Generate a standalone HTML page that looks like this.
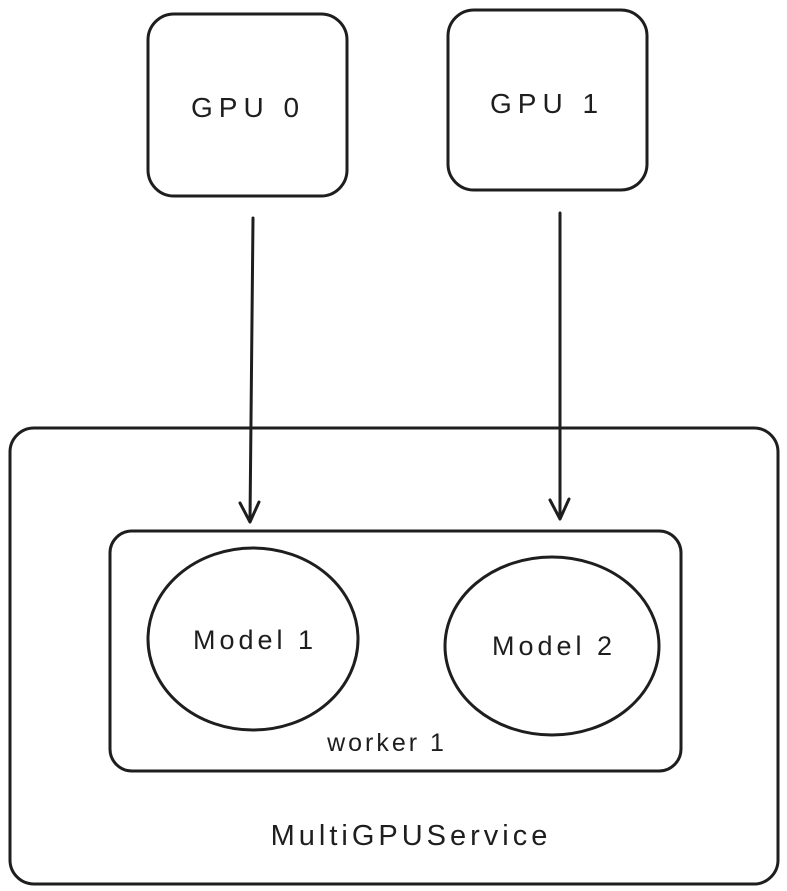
<!DOCTYPE html>
<html><head><meta charset="utf-8"><style>
html,body{margin:0;padding:0;background:#fff;}
svg{display:block;}
text{font-family:"Liberation Sans",sans-serif;fill:#1e1e1e;}
</style></head><body>
<svg width="787" height="891" viewBox="0 0 787 891" xmlns="http://www.w3.org/2000/svg">
<g fill="none" stroke="#1e1e1e" stroke-width="3" stroke-linecap="round" stroke-linejoin="round">
<rect x="148" y="14" width="199" height="182" rx="26"/>
<rect x="448" y="10" width="199" height="180" rx="26"/>
<rect x="10" y="428" width="768" height="456" rx="24"/>
<rect x="110" y="531" width="571" height="240" rx="22"/>
<ellipse cx="253" cy="639" rx="105" ry="91"/>
<ellipse cx="552" cy="646" rx="107" ry="89"/>
<path d="M253 218 L250 521"/>
<path d="M240 503 L250 522 L259 502"/>
<path d="M560 213 L560 518"/>
<path d="M550 500 L560 519 L569 499"/>
</g>
<g font-size="28" text-anchor="middle">
<text x="248" y="117" letter-spacing="6">GPU 0</text>
<text x="547" y="113" letter-spacing="6">GPU 1</text>
<text x="255" y="649" font-size="27" letter-spacing="4">Model 1</text>
<text x="554" y="655" font-size="27" letter-spacing="4">Model 2</text>
<text x="387" y="751" font-size="25" letter-spacing="3">worker 1</text>
<text x="411" y="845" font-size="29" letter-spacing="4">MultiGPUService</text>
</g>
</svg>
</body></html>
